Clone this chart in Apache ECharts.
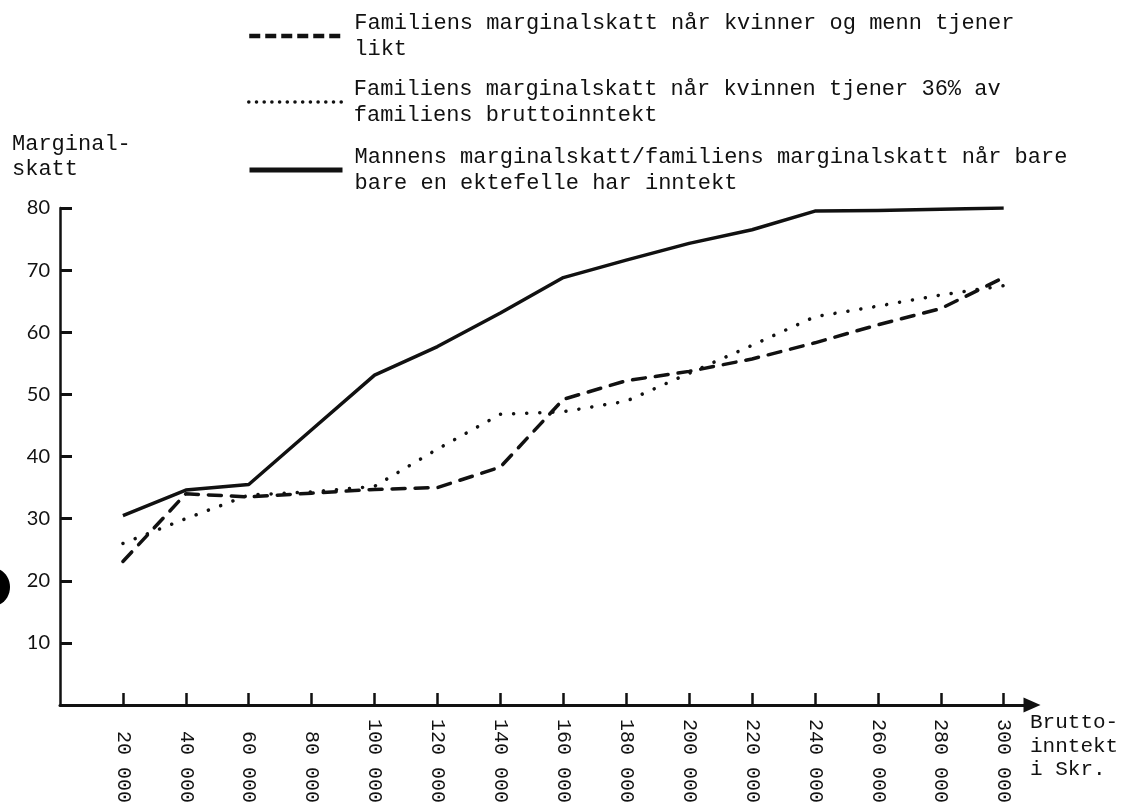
<!DOCTYPE html>
<html>
<head>
<meta charset="utf-8">
<script src="https://cdn.jsdelivr.net/npm/echarts@6/dist/echarts.min.js"></script>
<style>
  html, body { margin: 0; padding: 0; background: #fff; }
  #chart { width: 1126px; height: 808px; }
</style>
</head>
<body>
<div id="chart"></div>
<script>
// ---- Data ----
const incomes = [20000, 40000, 60000, 80000, 100000, 120000, 140000, 160000, 180000, 200000, 220000, 240000, 260000, 280000, 300000];
const incomeLabels = [' 20 000', ' 40 000', ' 60 000', ' 80 000', '100 000', '120 000', '140 000', '160 000', '180 000', '200 000', '220 000', '240 000', '260 000', '280 000', '300 000'];
const taxTicks = [10, 20, 30, 40, 50, 60, 70, 80];

const seriesNames = [
  'Familiens marginalskatt når kvinner og menn tjener\nlikt',
  'Familiens marginalskatt når kvinnen tjener 36% av\nfamiliens bruttoinntekt',
  'Mannens marginalskatt/familiens marginalskatt når bare\nbare en ektefelle har inntekt'
];
const likt = [23.1, 34.0, 33.5, 34.1, 34.7, 35.0, 38.3, 49.2, 52.2, 53.7, 55.7, 58.3, 61.2, 63.8, 68.8];
const kvinne36 = [26.0, 30.0, 33.8, 34.3, 35.2, 41.2, 46.8, 47.2, 48.9, 53.4, 57.9, 62.5, 64.2, 66.0, 67.5];
const mann = [30.5, 34.6, 35.5, 44.3, 53.1, 57.7, 63.1, 68.8, 71.6, 74.3, 76.5, 79.5, 79.6, 79.8, 80.0];

const yAxisTitle = 'Marginal-\nskatt';
const xAxisTitle = 'Brutto-\ninntekt\ni Skr.';

// ---- Chart ----
const MONO = '"Liberation Mono", "DejaVu Sans Mono", monospace';
const INK = '#111';
const pair = arr => incomes.map((x, i) => [x, arr[i]]);

const chart = echarts.init(document.getElementById('chart'), null, { renderer: 'canvas' });

function legendFor(idx, top, lineStyle) {
  return {
    show: true,
    left: 247,
    top: top,
    padding: 0,
    orient: 'vertical',
    itemWidth: 93,
    itemHeight: 14,
    selectedMode: false,
    data: [{
      name: seriesNames[idx],
      lineStyle: lineStyle,
      itemStyle: { color: 'rgba(0,0,0,0)', borderWidth: 0, opacity: 0 }
    }],
    textStyle: { fontFamily: MONO, fontSize: 22, color: INK, lineHeight: 26, padding: [0, 0, 0, 7] }
  };
}

const option = {
  backgroundColor: '#fff',
  animation: false,
  grid: { left: 60, right: 94, top: 208, bottom: 103, containLabel: false },
  legend: [
    legendFor(0, 10, { color: INK, width: 4.5, type: [11, 5], cap: 'butt' }),
    legendFor(1, 76, { color: INK, width: 3.5, type: [0.1, 7.6], cap: 'round' }),
    legendFor(2, 144, { color: INK, width: 5, type: 'solid' })
  ],
  xAxis: {
    type: 'value',
    min: 0,
    max: 309000,
    interval: 20000,
    splitLine: { show: false },
    axisLine: {
      show: true,
      onZero: false,
      symbol: ['none', 'triangle'],
      symbolSize: [15, 17],
      lineStyle: { color: INK, width: 3 }
    },
    axisTick: {
      show: true,
      inside: true,
      length: 12,
      customValues: incomes,
      lineStyle: { color: INK, width: 2.5 }
    },
    axisLabel: {
      show: true,
      rotate: -90,
      margin: 14,
      customValues: incomes,
      fontFamily: MONO,
      fontSize: 20,
      color: INK,
      formatter: v => {
        const i = incomes.indexOf(v);
        return i >= 0 ? incomeLabels[i] : '';
      }
    }
  },
  yAxis: {
    type: 'value',
    min: 0,
    max: 80,
    interval: 10,
    splitLine: { show: false },
    axisLine: { show: true, onZero: false, lineStyle: { color: INK, width: 2.5 } },
    axisTick: {
      show: true,
      inside: true,
      length: 12,
      customValues: taxTicks,
      lineStyle: { color: INK, width: 3 }
    },
    axisLabel: {
      show: true,
      margin: 10,
      customValues: taxTicks,
      fontFamily: 'Lato, "DejaVu Sans", sans-serif',
      fontSize: 20,
      color: INK
    }
  },
  graphic: [
    {
      type: 'text', left: 12, top: 132,
      style: { text: yAxisTitle, font: '22px ' + MONO, fill: INK, lineHeight: 25 }
    },
    {
      type: 'text', left: 1030, top: 711,
      style: { text: xAxisTitle, font: '21px ' + MONO, fill: INK, lineHeight: 23.5 }
    },
    {
      type: 'ellipse', shape: { cx: -7, cy: 587, rx: 17, ry: 19 },
      style: { fill: '#000' }
    }
  ],
  series: [
    {
      name: seriesNames[0], type: 'line', data: pair(likt), symbol: 'none',
      lineStyle: { color: INK, width: 3.5, type: [13, 10], cap: 'round' },
      itemStyle: { color: INK }, z: 3
    },
    {
      name: seriesNames[1], type: 'line', data: pair(kvinne36), symbol: 'none',
      lineStyle: { color: INK, width: 3.5, type: [0.1, 13], cap: 'round' },
      itemStyle: { color: INK }, z: 2
    },
    {
      name: seriesNames[2], type: 'line', data: pair(mann), symbol: 'none',
      lineStyle: { color: INK, width: 3.5, type: 'solid', join: 'round' },
      itemStyle: { color: INK }, z: 4
    }
  ]
};

chart.setOption(option);
</script>
</body>
</html>
